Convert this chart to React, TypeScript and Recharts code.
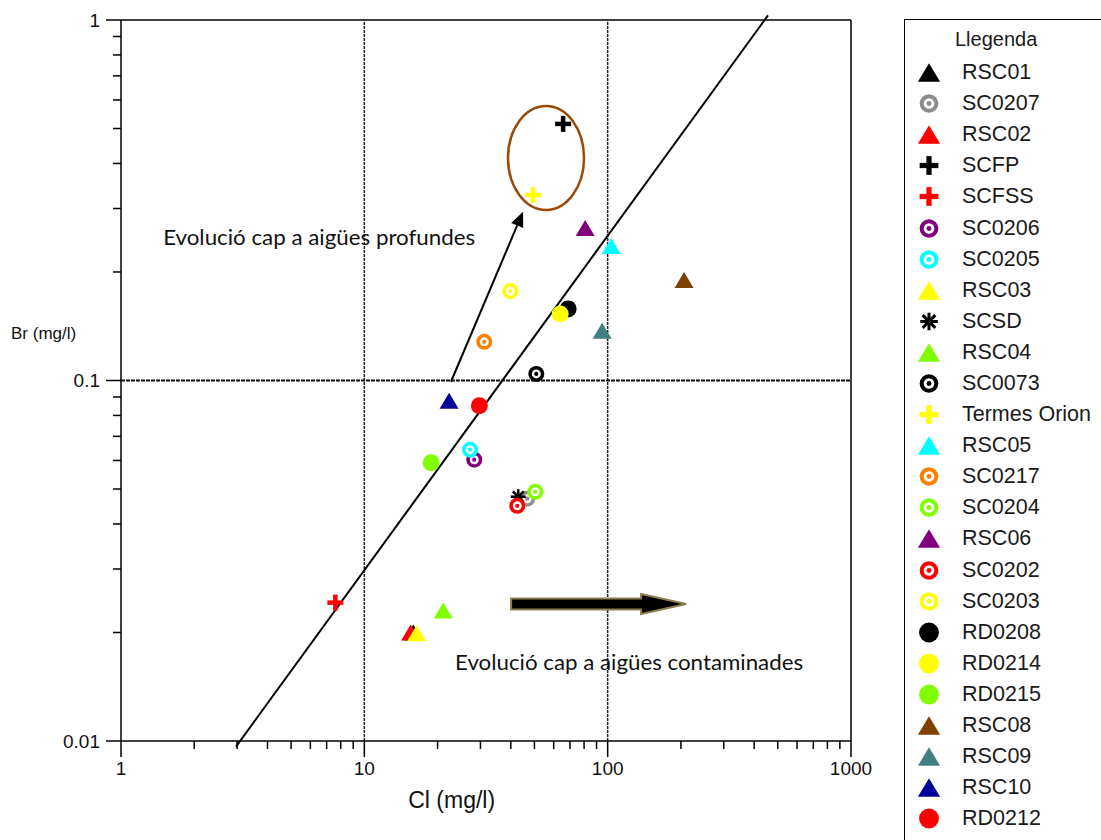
import { ScatterChart, Scatter, XAxis, YAxis, ReferenceLine, ReferenceDot, Legend } from 'recharts';

// Sampling stations, in legend order (later ones drawn on top)
const stations = [
  'RSC01', 'SC0207', 'RSC02', 'SCFP', 'SCFSS', 'SC0206', 'SC0205', 'RSC03', 'SCSD', 'RSC04',
  'SC0073', 'Termes Orion', 'RSC05', 'SC0217', 'SC0204', 'RSC06', 'SC0202', 'SC0203', 'RD0208',
  'RD0214', 'RD0215', 'RSC08', 'RSC09', 'RSC10', 'RD0212',
];

// Cl (mg/l)
const chloride = [
  15.9, 46.7, 15.5, 65.6, 7.6, 28.3, 27.2, 16.4, 42.9, 21.1,
  50.9, 49.4, 103.4, 31.1, 50.4, 80.8, 42.5, 39.8, 68.8,
  63.8, 18.8, 206, 94.9, 22.3, 29.7,
];

// Br (mg/l)
const bromide = [
  0.02, 0.047, 0.02, 0.515, 0.0242, 0.0603, 0.0643, 0.0199, 0.0476, 0.023,
  0.1043, 0.327, 0.236, 0.128, 0.0491, 0.265, 0.0449, 0.177, 0.158,
  0.153, 0.0591, 0.19, 0.1373, 0.0879, 0.0851,
];

const clDecades = [1, 10, 100, 1000];
const brDecades = [0.01, 0.1, 1];

// guide lines and annotations (Cl, Br)
const seawaterLine = [{ cl: 2.97, br: 0.00965 }, { cl: 456, br: 1.03 }];
const deepArrow = [{ cl: 22.7, br: 0.0992 }, { cl: 44.9, br: 0.294 }];
const pollutionArrow = [{ cl: 40.1, br: 0.024 }, { cl: 210, br: 0.024 }];
const deepGroup = { cl: 55.8, br: 0.414 };
const notes = [
  { text: 'Evolució cap a aigües profundes', cl: 1.49, br: 0.238, width: 312 },
  { text: 'Evolució cap a aigües contaminades', cl: 23.6, br: 0.0157, width: 348 },
];

type Kind = 'tri' | 'ring' | 'dot' | 'cross' | 'star';

const markStyle: Record<string, { kind: Kind; color: string }> = {
  RSC01: { kind: 'tri', color: '#000000' },
  SC0207: { kind: 'ring', color: '#8c8c8c' },
  RSC02: { kind: 'tri', color: '#ff0000' },
  SCFP: { kind: 'cross', color: '#000000' },
  SCFSS: { kind: 'cross', color: '#ff0000' },
  SC0206: { kind: 'ring', color: '#800080' },
  SC0205: { kind: 'ring', color: '#00ffff' },
  RSC03: { kind: 'tri', color: '#ffff00' },
  SCSD: { kind: 'star', color: '#000000' },
  RSC04: { kind: 'tri', color: '#80ff00' },
  SC0073: { kind: 'ring', color: '#000000' },
  'Termes Orion': { kind: 'cross', color: '#ffff00' },
  RSC05: { kind: 'tri', color: '#00ffff' },
  SC0217: { kind: 'ring', color: '#ff8000' },
  SC0204: { kind: 'ring', color: '#80ff00' },
  RSC06: { kind: 'tri', color: '#800080' },
  SC0202: { kind: 'ring', color: '#ff0000' },
  SC0203: { kind: 'ring', color: '#ffff00' },
  RD0208: { kind: 'dot', color: '#000000' },
  RD0214: { kind: 'dot', color: '#ffff00' },
  RD0215: { kind: 'dot', color: '#80ff00' },
  RSC08: { kind: 'tri', color: '#804000' },
  RSC09: { kind: 'tri', color: '#408080' },
  RSC10: { kind: 'tri', color: '#000099' },
  RD0212: { kind: 'dot', color: '#ff0000' },
};

const axisFont = "'Liberation Sans Narrow', 'Liberation Sans', Arial, sans-serif";
const legendFont = "'Liberation Sans', Arial, sans-serif";
const noteFont = "Lato, 'Open Sans', sans-serif";

const withMinors = (decades: number[]) => {
  const out: number[] = [];
  decades.forEach((d, i) => {
    out.push(d);
    if (i < decades.length - 1) for (let k = 2; k < 10; k++) out.push(+(d * k).toPrecision(3));
  });
  return out;
};
const clTicks = withMinors(clDecades);
const brTicks = withMinors(brDecades);

const isDecade = (v: number) => Math.abs(Math.log10(v) - Math.round(Math.log10(v))) < 1e-6;

const Marker = ({ kind, color, cx, cy, s = 1 }: { kind: Kind; color: string; cx: number; cy: number; s?: number }) => {
  switch (kind) {
    case 'tri': {
      const hw = 9.5 * s, hh = 8 * s;
      return <polygon points={`${cx - hw},${cy + hh} ${cx + hw},${cy + hh} ${cx},${cy - hh}`} fill={color} />;
    }
    case 'ring':
      return (
        <g>
          <circle cx={cx} cy={cy} r={8 * s} fill={color} />
          <circle cx={cx} cy={cy} r={4.5 * s} fill="#fff" />
          <circle cx={cx} cy={cy} r={2.1 * s} fill={color} />
        </g>
      );
    case 'dot':
      return <circle cx={cx} cy={cy} r={8.5 * s} fill={color} />;
    case 'cross': {
      const h = 8 * s;
      return (
        <g stroke={color} strokeWidth={4.5 * s}>
          <line x1={cx - h} x2={cx + h} y1={cy} y2={cy} />
          <line x1={cx} x2={cx} y1={cy - h} y2={cy + h} />
        </g>
      );
    }
    default: {
      const h = 7.5 * s, d = h * 0.72;
      return (
        <g stroke={color} strokeWidth={2.6 * s}>
          <line x1={cx - h} x2={cx + h} y1={cy} y2={cy} />
          <line x1={cx} x2={cx} y1={cy - h} y2={cy + h} />
          <line x1={cx - d} x2={cx + d} y1={cy - d} y2={cy + d} />
          <line x1={cx - d} x2={cx + d} y1={cy + d} y2={cy - d} />
        </g>
      );
    }
  }
};

const ClTick = ({ x, y, payload }: any) => {
  const major = isDecade(payload.value);
  return (
    <g>
      <line x1={x} x2={x} y1={y} y2={y + (major ? 16 : 8)} stroke="#000" strokeWidth={1.5} />
      {major && (
        <text x={x} y={y + 34} textAnchor="middle" fontSize={19} fontFamily={axisFont} fill="#111">
          {payload.value}
        </text>
      )}
    </g>
  );
};

const BrTick = ({ x, y, payload }: any) => {
  const major = isDecade(payload.value);
  return (
    <g>
      <line x1={x} x2={x - (major ? 15 : 8)} y1={y} y2={y} stroke="#000" strokeWidth={1.5} />
      {major && (
        <text x={x - 21} y={y} dy="0.35em" textAnchor="end" fontSize={19} fontFamily={axisFont} fill="#111">
          {payload.value}
        </text>
      )}
    </g>
  );
};

const LegendBox = () => (
  <div
    style={{
      width: 199,
      height: 830,
      border: '1.5px solid #000',
      boxSizing: 'border-box',
      background: '#fff',
      fontFamily: legendFont,
      color: '#1a1a1a',
      paddingTop: 4,
    }}
  >
    <div style={{ height: 31, lineHeight: '31px', fontSize: 20, paddingLeft: 50, marginBottom: 2 }}>Llegenda</div>
    {stations.map((name) => (
      <div key={name} style={{ height: 31.1, display: 'flex', alignItems: 'center' }}>
        <svg width={48} height={31} style={{ flex: 'none' }}>
          <Marker kind={markStyle[name].kind} color={markStyle[name].color} cx={24} cy={15.5} s={1.17} />
        </svg>
        <span style={{ fontSize: 21.5, marginLeft: 9, lineHeight: '31px' }}>{name}</span>
      </div>
    ))}
  </div>
);

export default function App() {
  return (
    <div style={{ position: 'absolute', left: 0, top: 0, width: 1101, height: 840, overflow: 'hidden', background: '#fff' }}>
      <ScatterChart width={1101} height={840} margin={{ top: 20, right: 250, bottom: 0, left: 0 }}>
        <XAxis
          type="number"
          dataKey="cl"
          scale="log"
          domain={[1, 1000]}
          allowDataOverflow
          ticks={clTicks}
          interval={0}
          tickLine={false}
          tickSize={0}
          tickMargin={0}
          tick={(p: any) => <ClTick {...p} />}
          axisLine={{ stroke: '#000', strokeWidth: 1.5 }}
          height={99}
          label={{
            value: 'Cl (mg/l)',
            content: ({ viewBox }: any) => (
              <text x={viewBox.x + viewBox.width * 0.453} y={viewBox.y + 67} textAnchor="middle" fontSize={23} fontFamily={axisFont} fill="#111">
                Cl (mg/l)
              </text>
            ),
          }}
        />
        <YAxis
          type="number"
          dataKey="br"
          scale="log"
          domain={[0.01, 1]}
          allowDataOverflow
          ticks={brTicks}
          interval={0}
          tickLine={false}
          tickSize={0}
          tickMargin={0}
          tick={(p: any) => <BrTick {...p} />}
          axisLine={{ stroke: '#000', strokeWidth: 1.5 }}
          width={121}
          label={{
            value: 'Br (mg/l)',
            content: ({ viewBox }: any) => (
              <text x={viewBox.x + 11} y={viewBox.y + 313} dy="0.35em" fontSize={17} fontFamily={legendFont} fill="#111">
                Br (mg/l)
              </text>
            ),
          }}
        />

        {/* frame and decade grid */}
        <ReferenceLine y={1} stroke="#000" strokeWidth={1.5} />
        <ReferenceLine x={1000} stroke="#000" strokeWidth={1.5} />
        <ReferenceLine x={10} stroke="#222" strokeWidth={1.5} strokeDasharray="3 1" />
        <ReferenceLine x={100} stroke="#222" strokeWidth={1.5} strokeDasharray="3 1" />
        <ReferenceLine y={0.1} stroke="#111" strokeWidth={1.8} strokeDasharray="4 1" />

        {/* Br/Cl reference line */}
        <ReferenceLine
          segment={[{ x: seawaterLine[0].cl, y: seawaterLine[0].br }, { x: seawaterLine[1].cl, y: seawaterLine[1].br }]}
          ifOverflow="visible"
          stroke="#000"
          strokeWidth={2}
        />

        {/* arrow towards deep waters */}
        <ReferenceLine
          segment={[{ x: deepArrow[0].cl, y: deepArrow[0].br }, { x: deepArrow[1].cl, y: deepArrow[1].br }]}
          ifOverflow="visible"
          shape={(p: any) => {
            const ang = Math.atan2(p.y2 - p.y1, p.x2 - p.x1);
            const len = 15, half = 6.5;
            const bx = p.x2 - len * Math.cos(ang), by = p.y2 - len * Math.sin(ang);
            const nx = -Math.sin(ang) * half, ny = Math.cos(ang) * half;
            return (
              <g>
                <line x1={p.x1} y1={p.y1} x2={bx} y2={by} stroke="#000" strokeWidth={2} />
                <polygon points={`${p.x2},${p.y2} ${bx + nx},${by + ny} ${bx - nx},${by - ny}`} fill="#000" />
              </g>
            );
          }}
        />

        {/* block arrow towards polluted waters */}
        <ReferenceLine
          segment={[{ x: pollutionArrow[0].cl, y: pollutionArrow[0].br }, { x: pollutionArrow[1].cl, y: pollutionArrow[1].br }]}
          ifOverflow="visible"
          shape={(p: any) => {
            const y = p.y1, hx = p.x2 - 45;
            return (
              <polygon
                points={`${p.x1},${y - 5.5} ${hx},${y - 5.5} ${hx},${y - 10} ${p.x2},${y} ${hx},${y + 10} ${hx},${y + 5.5} ${p.x1},${y + 5.5}`}
                fill="#000"
                stroke="#8c7d4e"
                strokeWidth={2}
              />
            );
          }}
        />

        <ReferenceDot
          x={deepGroup.cl}
          y={deepGroup.br}
          ifOverflow="visible"
          shape={(p: any) => <ellipse cx={p.cx} cy={p.cy} rx={38} ry={52} fill="none" stroke="#9a4a08" strokeWidth={2.5} />}
        />

        {notes.map((n) => (
          <ReferenceDot
            key={n.text}
            x={n.cl}
            y={n.br}
            ifOverflow="visible"
            shape={(p: any) => (
              <text x={p.cx} y={p.cy} fontSize={21} fontFamily={noteFont} fill="#111" textLength={n.width} lengthAdjust="spacingAndGlyphs">
                {n.text}
              </text>
            )}
          />
        ))}

        {stations.map((name, i) => (
          <Scatter
            key={name}
            name={name}
            data={[{ cl: chloride[i], br: bromide[i] }]}
            fill={markStyle[name].color}
            isAnimationActive={false}
            shape={(p: any) => <Marker kind={markStyle[name].kind} color={markStyle[name].color} cx={p.cx} cy={p.cy} />}
          />
        ))}

        <Legend
          layout="vertical"
          align="center"
          verticalAlign="middle"
          wrapperStyle={{ left: 904, top: 19, width: 199 }}
          content={() => <LegendBox />}
        />
      </ScatterChart>
    </div>
  );
}
